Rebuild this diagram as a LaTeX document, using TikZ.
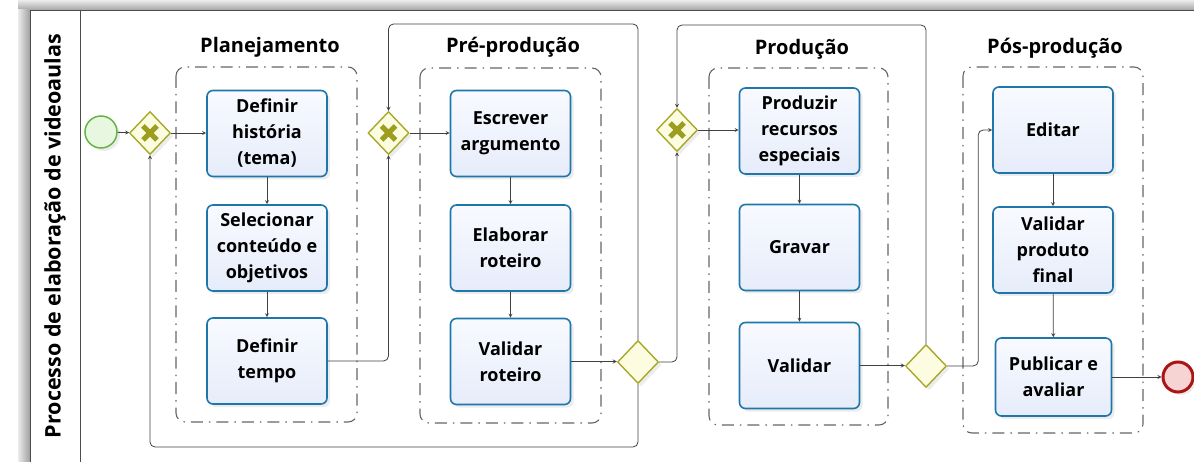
\documentclass[tikz,border=0pt]{standalone}
\usepackage{fontspec}
\setmainfont{Open Sans}
\usetikzlibrary{arrows,shapes.geometric,shadows}

\definecolor{taskline}{RGB}{30,118,170}
\definecolor{tasktop}{RGB}{248,250,255}
\definecolor{taskfill}{RGB}{230,236,250}
\definecolor{gateline}{RGB}{168,168,40}
\definecolor{gatefill}{RGB}{252,252,224}
\definecolor{crossfill}{RGB}{158,158,30}
\definecolor{startline}{RGB}{104,180,72}
\definecolor{startfill}{RGB}{232,248,224}
\definecolor{endline}{RGB}{172,20,20}
\definecolor{endfill}{RGB}{246,212,212}

\begin{document}
\begin{tikzpicture}[x=1pt, y=-1pt, >=stealth,
	task/.style={draw=taskline, line width=1.6pt, top color=tasktop, bottom color=taskfill,
		rounded corners=6pt, minimum width=120pt, minimum height=86pt, align=center,
		font=\bfseries\fontsize{18}{26}\selectfont,
		drop shadow={shadow xshift=3pt, shadow yshift=-3pt, opacity=0.15}},
	gate/.style={diamond, draw=gateline, line width=1.4pt, fill=gatefill, inner sep=0pt,
		minimum width=41pt, minimum height=43pt,
		drop shadow={shadow xshift=3pt, shadow yshift=-3pt, opacity=0.15}},
	cross/.style={crossfill, line width=5pt},
	flow/.style={->, black!75, line width=0.8pt, rounded corners=5pt},
	grp/.style={gray!80!black, line width=1.1pt, rounded corners=9pt,
		dash pattern=on 12pt off 6pt on 1.5pt off 6pt},
	grptitle/.style={font=\bfseries\fontsize{20}{20}\selectfont}]
	\useasboundingbox (0,0) rectangle (1194,462);

	% pool
	\shade[top color=gray!15, bottom color=gray!70] (18,0) rectangle (1194,10);
	\shade[left color=gray!15, right color=gray!75] (18,10) rectangle (30,462);
	\draw[black!70, line width=0.8pt] (1194,10) -- (30,10) -- (30,462);
	\draw[black!70, line width=0.8pt] (80,10) -- (80,462);
	\node[rotate=90, font=\bfseries\fontsize{21.5}{21.5}\selectfont] (pool) at (55,236) {Processo de elaboração de videoaulas};

	% groups
	\draw[grp] (176,67) rectangle (357,422);
	\draw[grp] (420,68) rectangle (601,423);
	\draw[grp] (709,68) rectangle (888,425);
	\draw[grp] (963,67) rectangle (1143,433);
	\node[grptitle] (plan) at (270,47) {Planejamento};
	\node[grptitle] (pre) at (513,47) {Pré-produção};
	\node[grptitle] (prod) at (802,49) {Produção};
	\node[grptitle] (pos) at (1055,48) {Pós-produção};

	% events and gateways
	\node[circle, draw=startline, fill=startfill, line width=1.5pt, minimum size=32pt,
		drop shadow={shadow xshift=3pt, shadow yshift=-3pt, opacity=0.15}] (start) at (101,132) {};
	\node[circle, draw=endline, fill=endfill, line width=3pt, minimum size=30pt,
		drop shadow={shadow xshift=3pt, shadow yshift=-3pt, opacity=0.15}] (endev) at (1178,377) {};
	\node[gate] (g1) at (150,133) {};
	\node[gate] (g2) at (388.5,133) {};
	\node[gate] (g3) at (638,362) {};
	\node[gate] (g4) at (677,130) {};
	\node[gate] (g5) at (926,366) {};
	\foreach \g in {g1,g2,g4}
		\draw[cross] (\g.center) +(-7,-7) -- +(7,7) +(-7,7) -- +(7,-7);

	% tasks
	\node[task] (hist) at (267,133.5) {Definir\\história\\(tema)};
	\node[task] (sel) at (267,248) {Selecionar\\conteúdo e\\objetivos};
	\node[task] (tempo) at (267,361) {Definir\\tempo};
	\node[task] (arg) at (510.5,133.5) {Escrever\\argumento};
	\node[task] (rot) at (510.5,248) {Elaborar\\roteiro};
	\node[task] (valr) at (510.5,361.5) {Validar\\roteiro};
	\node[task] (rec) at (799.5,131) {Produzir\\recursos\\especiais};
	\node[task] (grav) at (799.5,247.5) {Gravar};
	\node[task] (valp) at (799.5,365.5) {Validar};
	\node[task] (edit) at (1053,130) {Editar};
	\node[task] (valf) at (1053,250) {Validar\\produto\\final};
	\node[task, minimum width=116pt, minimum height=78pt] (pub) at (1053.5,377) {Publicar e\\avaliar};

	\coordinate (topA) at (0,24);
	\coordinate (topB) at (0,25);
	\coordinate (botA) at (0,447);

	% flows
	\draw[flow] (start) -- (g1);
	\draw[flow] (g1.east) -- (g1.east -| hist.west);
	\draw[flow] (hist) -- (sel);
	\draw[flow] (sel) -- (tempo);
	\draw[flow] (tempo.east) -| (g2.south);
	\draw[flow] (g2.east) -- (g2.east -| arg.west);
	\draw[flow] (arg) -- (rot);
	\draw[flow] (rot) -- (valr);
	\draw[flow] (valr.east) -- (valr.east -| g3.west);
	\draw[flow] (g3.north) -- (g3.north |- topA) -| (g2.north);
	\draw[flow] (g3.south) -- (g3.south |- botA) -| (g1.south);
	\draw[flow] (g3.east) -| (g4.south);
	\draw[flow] (g4.east) -- (g4.east -| rec.west);
	\draw[flow] (rec) -- (grav);
	\draw[flow] (grav) -- (valp);
	\draw[flow] (valp.east) -- (valp.east -| g5.west);
	\draw[flow] (g5.north) -- (g5.north |- topB) -| (g4.north);
	\draw[flow] (g5.east) -- ++(31,0) |- (edit.west);
	\draw[flow] (edit) -- (valf);
	\draw[flow] (valf) -- (pub);
	\draw[flow] (pub.east) -- (pub.east -| endev.west);
\end{tikzpicture}
\end{document}
